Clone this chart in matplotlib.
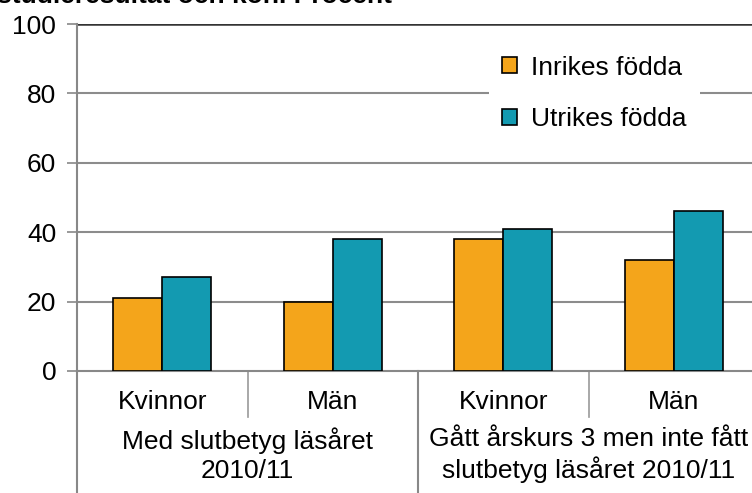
import matplotlib.pyplot as plt
import numpy as np

plt.rcParams['font.family'] = ['Liberation Sans', 'DejaVu Sans']

# Data
sub_labels = ['Kvinnor', 'Män', 'Kvinnor', 'Män']
group_labels = ['Med slutbetyg läsåret\n2010/11', 'Gått årskurs 3 men inte fått\nslutbetyg läsåret 2010/11']
inrikes = [21, 20, 38, 32]
utrikes = [27, 38, 41, 46]
series_names = ['Inrikes födda', 'Utrikes födda']
colors = ['#F4A51B', '#139AB1']

fig = plt.figure(figsize=(7.52, 4.93), dpi=100)
ax = fig.add_axes([77 / 752, 1 - 371 / 493, 682 / 752, 347 / 493])

x = np.arange(len(sub_labels))
w = 0.286
ax.bar(x - w / 2, inrikes, w, color=colors[0], edgecolor='black', linewidth=1.2,
       label=series_names[0], zorder=3)
ax.bar(x + w / 2, utrikes, w, color=colors[1], edgecolor='black', linewidth=1.2,
       label=series_names[1], zorder=3)

ax.set_xlim(-0.5, 3.5)
ax.set_ylim(0, 100)
ax.set_yticks([0, 20, 40, 60, 80, 100])
ax.tick_params(axis='y', labelsize=19, color='#888888', length=7, width=1.2, pad=8)
ax.set_xticks([])

# gridlines
for yv in [20, 40, 60, 80]:
    ax.axhline(yv, color='#8c8c8c', linewidth=1.5, zorder=1)
ax.axhline(100, color='#333333', linewidth=1.8, zorder=2)

for s in ['top', 'right']:
    ax.spines[s].set_visible(False)
ax.spines['left'].set_color('#888888')
ax.spines['left'].set_linewidth(1.5)
ax.spines['bottom'].set_color('#888888')
ax.spines['bottom'].set_linewidth(1.5)

# category axis
trans = ax.get_xaxis_transform()
for i, lab in enumerate(sub_labels):
    ax.text(i, -0.089, lab, transform=trans, ha='center', va='center', fontsize=19)
for xb in [0.5, 2.5]:
    ax.plot([xb, xb], [0, -0.133], transform=trans, color='#999999', linewidth=1.2, clip_on=False)
for xb in [-0.5, 1.5]:
    ax.plot([xb, xb], [0, -0.5], transform=trans, color='#888888', linewidth=1.5, clip_on=False)
for g, lab in enumerate(group_labels):
    ax.text(2 * g + 0.5, -0.242, lab, transform=trans, ha='center', va='center',
            fontsize=19, linespacing=1.25)

leg = ax.legend(loc='upper left', bbox_to_anchor=(0.585, 0.985), fontsize=19, frameon=True,
                edgecolor='none', facecolor='white', framealpha=1, fancybox=False,
                handlelength=0.55, handleheight=0.55, handletextpad=0.55, labelspacing=1.05,
                borderpad=0.5)
leg.set_zorder(4)

fig.text(-0.004, 1 - 3 / 493, 'studieresultat och kön. Procent', fontsize=19,
         fontweight='bold', va='baseline', ha='left')

plt.savefig('out.png', dpi=100)
